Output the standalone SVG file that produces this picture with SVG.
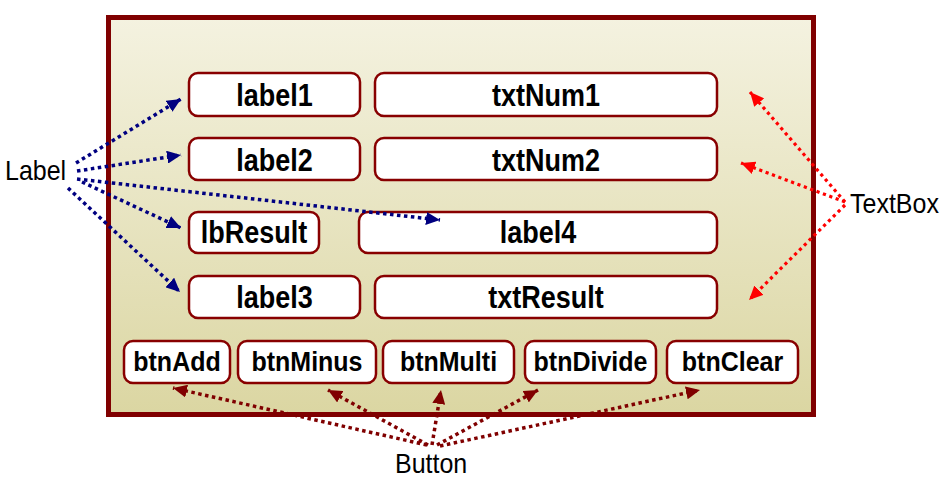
<svg xmlns="http://www.w3.org/2000/svg" width="950" height="481" viewBox="0 0 950 481">
  <style>
    .node rect { fill: #ffffff; stroke: #880000; stroke-width: 2.5; }
    .node text { font-family: "Liberation Sans", Arial, sans-serif; font-weight: bold; font-size: 27px; fill: #000; text-anchor: middle; }
    .btn text { font-size: 25px; }
    .cap { font-family: "Liberation Sans", Arial, sans-serif; font-size: 25px; fill: #000; }
    .blue { stroke: #000080; stroke-width: 3.5; stroke-dasharray: 3.5 3.5; fill: none; marker-end: url(#ab); }
    .red { stroke: #ff0000; stroke-width: 3.2; stroke-dasharray: 3.2 3.6; fill: none; marker-end: url(#ar); }
    .dred { stroke: #800000; stroke-width: 3.5; stroke-dasharray: 3.5 3.5; fill: none; marker-end: url(#ad); }
  </style>
  <defs>
    <linearGradient id="bg" x1="0" y1="0" x2="0" y2="1">
      <stop offset="0" stop-color="#f4f2e0"/>
      <stop offset="1" stop-color="#dbd6a2"/>
    </linearGradient>
    <marker id="ab" markerUnits="userSpaceOnUse" markerWidth="15" markerHeight="13" refX="14" refY="6.5" orient="auto">
      <path d="M0,0 L14,6.5 L0,13 z" fill="#000080"/>
    </marker>
    <marker id="ar" markerUnits="userSpaceOnUse" markerWidth="15" markerHeight="13" refX="14" refY="6.5" orient="auto">
      <path d="M0,0 L14,6.5 L0,13 z" fill="#ff0000"/>
    </marker>
    <marker id="ad" markerUnits="userSpaceOnUse" markerWidth="15" markerHeight="13" refX="14" refY="6.5" orient="auto">
      <path d="M0,0 L14,6.5 L0,13 z" fill="#800000"/>
    </marker>
  </defs>

  <g id="form">
    <rect x="108.5" y="17.5" width="705" height="397" fill="url(#bg)" stroke="#800000" stroke-width="5"/>
  </g>

  <g id="label1" class="node"><rect x="189" y="73" width="171" height="43" rx="9"/><text transform="translate(274.5,106) scale(1,1.14)">label1</text></g>
  <g id="txtNum1" class="node"><rect x="375" y="73" width="342" height="43" rx="9"/><text transform="translate(546,106) scale(1,1.14)">txtNum1</text></g>
  <g id="label2" class="node"><rect x="189" y="138" width="171" height="42" rx="9"/><text transform="translate(274.5,171) scale(1,1.14)">label2</text></g>
  <g id="txtNum2" class="node"><rect x="375" y="138" width="342" height="42" rx="9"/><text transform="translate(546,171) scale(1,1.14)">txtNum2</text></g>
  <g id="lbResult" class="node"><rect x="189" y="212" width="130" height="41" rx="9"/><text transform="translate(254,243) scale(1,1.14)">lbResult</text></g>
  <g id="label4" class="node"><rect x="359" y="212" width="358" height="41" rx="9"/><text transform="translate(538,243) scale(1,1.14)">label4</text></g>
  <g id="label3" class="node"><rect x="189" y="276" width="171" height="42" rx="9"/><text transform="translate(274.5,308) scale(1,1.14)">label3</text></g>
  <g id="txtResult" class="node"><rect x="375" y="276" width="342" height="42" rx="9"/><text transform="translate(546,308) scale(1,1.14)">txtResult</text></g>

  <g id="btnAdd" class="node btn"><rect x="124" y="341" width="106" height="42" rx="9"/><text transform="translate(177,371) scale(1,1.14)">btnAdd</text></g>
  <g id="btnMinus" class="node btn"><rect x="238" y="341" width="138" height="42" rx="9"/><text transform="translate(307,371) scale(1,1.14)">btnMinus</text></g>
  <g id="btnMulti" class="node btn"><rect x="383" y="341" width="131" height="42" rx="9"/><text transform="translate(448.5,371) scale(1,1.14)">btnMulti</text></g>
  <g id="btnDivide" class="node btn"><rect x="525" y="341" width="131" height="42" rx="9"/><text transform="translate(590.5,371) scale(1,1.14)">btnDivide</text></g>
  <g id="btnClear" class="node btn"><rect x="667" y="341" width="131" height="42" rx="9"/><text transform="translate(732.5,371) scale(1,1.14)">btnClear</text></g>

  <g id="cap-label"><text class="cap" transform="translate(5,180) scale(1,1.14)">Label</text></g>
  <g id="cap-textbox"><text class="cap" transform="translate(850,213) scale(1,1.14)">TextBox</text></g>
  <g id="cap-button"><text class="cap" transform="translate(395,473) scale(1,1.14)">Button</text></g>

  <g id="connectors">
    <line class="blue" x1="76" y1="163" x2="181" y2="99"/>
    <line class="blue" x1="77" y1="171" x2="181" y2="155"/>
    <line class="blue" x1="77" y1="179" x2="440" y2="220"/>
    <line class="blue" x1="82" y1="182" x2="181" y2="228"/>
    <line class="blue" x1="68" y1="188" x2="180" y2="292"/>

    <line class="red" x1="845" y1="202" x2="750" y2="92"/>
    <line class="red" x1="845" y1="202" x2="741" y2="163"/>
    <line class="red" x1="845" y1="205" x2="749" y2="300"/>

    <line class="dred" x1="427" y1="445" x2="173" y2="388"/>
    <line class="dred" x1="428" y1="445" x2="328" y2="390"/>
    <line class="dred" x1="432" y1="445" x2="441" y2="390"/>
    <line class="dred" x1="437" y1="445" x2="538" y2="390"/>
    <line class="dred" x1="440" y1="446" x2="700" y2="390"/>
  </g>
</svg>
